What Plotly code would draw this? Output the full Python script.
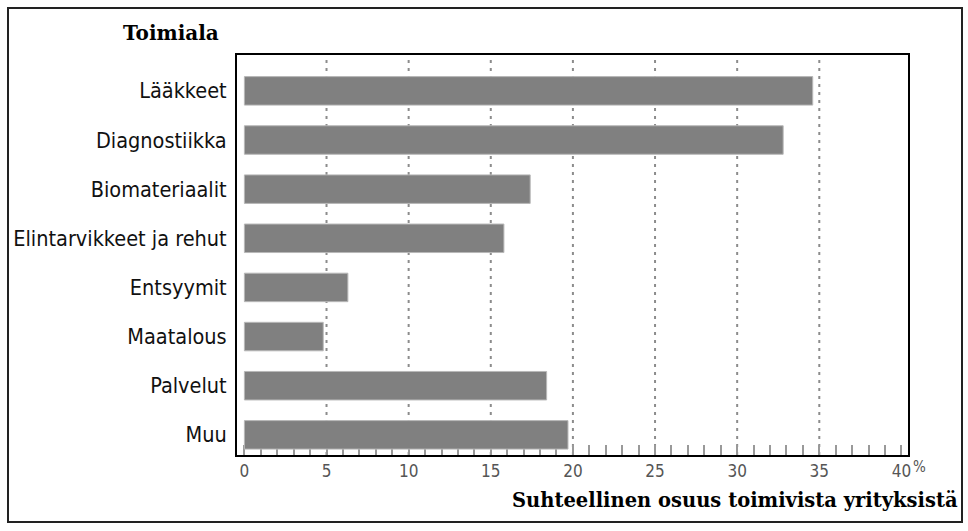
import plotly.graph_objects as go

categories = ["Lääkkeet", "Diagnostiikka", "Biomateriaalit", "Elintarvikkeet ja rehut",
              "Entsyymit", "Maatalous", "Palvelut", "Muu"]
values = [34.6, 32.8, 17.4, 15.8, 6.3, 4.8, 18.4, 19.7]
x_ticks = [0, 5, 10, 15, 20, 25, 30, 35, 40]
grid_vals = [5, 10, 15, 20, 25, 30, 35]

W, H = 968, 531
L, R, T, B = 237, 60, 55, 76
pw, ph = W - L - R, H - T - B

fig = go.Figure(go.Bar(
    x=values, y=categories, orientation="h",
    marker=dict(color="#808080", line=dict(color="#b8b8b8", width=1)),
    width=0.58,
))

sans = "Liberation Sans Narrow, DejaVu Sans Condensed, Arial Narrow, sans-serif"

fig.update_layout(
    width=W, height=H,
    margin=dict(l=L, r=R, t=T, b=B),
    paper_bgcolor="white", plot_bgcolor="white",
    showlegend=False,
    xaxis=dict(
        range=[-0.45, 40.4],
        tickvals=x_ticks, ticktext=[str(v) for v in x_ticks],
        showgrid=False,
        zeroline=False,
        showline=True, linecolor="black", linewidth=2, mirror=True,
        ticks="inside", ticklen=10, tickcolor="#999", tickwidth=2,
        minor=dict(dtick=1, ticks="inside", ticklen=10, tickcolor="#999", tickwidth=2, showgrid=False),
        layer="below traces",
        tickfont=dict(family=sans, size=17, color="#555"),
    ),
    yaxis=dict(
        categoryorder="array", categoryarray=categories,
        range=[7.41, -0.73],
        showgrid=False, zeroline=False,
        showline=True, linecolor="black", linewidth=2, mirror=True,
        ticks="", ticklabelstandoff=4,
        tickfont=dict(family=sans, size=21.5, color="#111"),
    ),
)

for v in grid_vals:
    fig.add_shape(type="line", xref="x", yref="paper", x0=v, x1=v, y0=0, y1=1,
                  line=dict(color="#8c8c8c", width=2, dash="3px,5px"), layer="below")

fig.add_annotation(text="<b>Toimiala</b>", xref="paper", yref="paper",
                   x=(171 - L) / pw, y=(H - B - 33) / ph, showarrow=False,
                   xanchor="center", yanchor="middle",
                   font=dict(family="DejaVu Serif, Liberation Serif, serif", size=20, color="black"))
fig.add_annotation(text="<b>Suhteellinen osuus toimivista yrityksistä</b>", xref="paper", yref="paper",
                   x=(960 - L) / pw, y=(H - B - 500) / ph, showarrow=False,
                   xanchor="right", yanchor="middle",
                   font=dict(family="DejaVu Serif, Liberation Serif, serif", size=19.5, color="black"))
fig.add_annotation(text="%", xref="paper", yref="paper",
                   x=(911 - L) / pw, y=(H - B - 467) / ph, showarrow=False,
                   xanchor="left", yanchor="middle",
                   font=dict(family=sans, size=15, color="#555"))

fig.add_shape(type="rect", xref="paper", yref="paper",
              x0=(8 - L) / pw, x1=(962 - L) / pw,
              y0=(H - B - 522) / ph, y1=(H - B - 8) / ph,
              line=dict(color="#222", width=2), layer="below")

fig.write_html("out.html", config={"displayModeBar": False},
               post_script="document.body.style.margin='0';")
